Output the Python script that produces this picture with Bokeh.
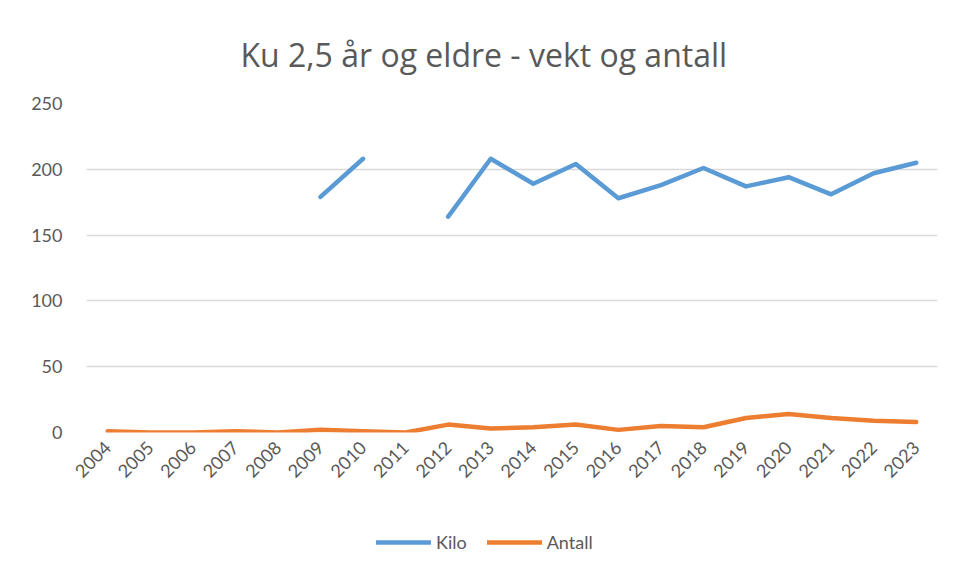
import math
from bokeh.plotting import figure
from bokeh.layouts import column
from bokeh.models import Range1d, FactorRange, Legend, LegendItem, FixedTicker
from bokeh.embed import file_html
from bokeh.resources import INLINE

years = [str(y) for y in range(2004, 2024)]
nan = float("nan")
kilo = [nan, nan, nan, nan, nan, 179, 208, nan, 164, 208, 189, 204, 178, 188, 201, 187, 194, 181, 197, 205]
antall = [1, 0, 0, 1, 0, 2, 1, 0, 6, 3, 4, 6, 2, 5, 4, 11, 14, 11, 9, 8]
y_ticks = [0, 50, 100, 150, 200, 250]
series_names = ["Kilo", "Antall"]
series_values = [kilo, antall]
series_colors = ["#5B9BD5", "#ED7D31"]

FONT = "Lato"
GRAY = "#595959"

xr = FactorRange(factors=years, range_padding=0)
p = figure(width=950, height=490, x_range=xr,
           y_range=Range1d(0, 250), output_backend="svg", toolbar_location=None,
           min_border_left=86, min_border_right=13, min_border_top=103, min_border_bottom=58)
p.outline_line_color = None

p.title.text = "Ku 2,5 år og eldre - vekt og antall"
p.title.align = "left"
p.title.offset = 154
p.title.standoff = 56
p.title.text_font = "Open Sans"
p.title.text_font_style = "normal"
p.title.text_font_size = "32px"
p.title.text_color = GRAY

for vals, col in zip(series_values, series_colors):
    p.line(years, vals, line_color=col, line_width=4.5, line_cap="round", line_join="round")

p.xgrid.grid_line_color = None
p.ygrid.grid_line_color = "#d9d9d9"
p.ygrid.grid_line_width = 1.5
p.yaxis.ticker = FixedTicker(ticks=y_ticks)
for ax in (p.xaxis[0], p.yaxis[0]):
    ax.axis_line_color = None
    ax.major_tick_line_color = None
    ax.minor_tick_line_color = None
    ax.major_label_text_font = FONT
    ax.major_label_text_font_size = "18px"
    ax.major_label_text_color = GRAY
p.xaxis.major_label_orientation = math.pi / 4
p.yaxis.major_label_standoff = 18
p.xaxis.major_label_standoff = 6

# legend strip: same series, drawn outside its visible y range, only the legend shows
q = figure(width=950, height=82, x_range=xr, y_range=Range1d(1000, 1001),
           output_backend="svg", toolbar_location=None,
           min_border_left=86, min_border_right=13, min_border_top=0, min_border_bottom=0)
q.outline_line_color = None
q.axis.visible = False
q.grid.grid_line_color = None
items = []
for name, vals, col in zip(series_names, series_values, series_colors):
    rr = q.line(years, vals, line_color=col, line_width=4.5, line_cap="round")
    items.append(LegendItem(label=name, renderers=[rr]))
legend = Legend(items=items, orientation="horizontal", location=(290, 19), border_line_color=None,
                background_fill_alpha=0, margin=0, padding=0,
                label_text_font=FONT, label_text_font_size="18px", label_text_color=GRAY,
                glyph_width=55, label_standoff=5, spacing=20)
q.add_layout(legend, "center")

open("out.html", "w").write(file_html(column(p, q, spacing=0), INLINE))
